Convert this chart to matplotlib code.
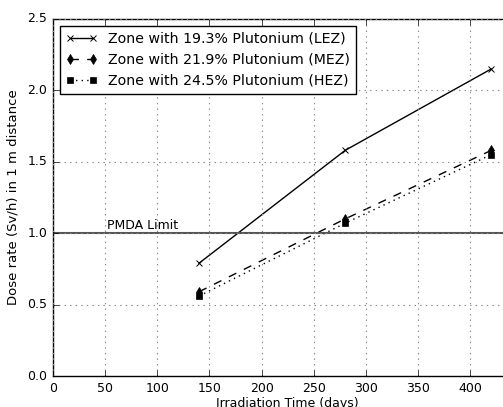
import matplotlib
matplotlib.use("Agg")
import matplotlib.pyplot as plt

days = [140, 280, 420]
lez = [0.79, 1.58, 2.15]
mez = [0.59, 1.10, 1.58]
hez = [0.56, 1.07, 1.55]
labels = ["Zone with 19.3% Plutonium (LEZ)",
          "Zone with 21.9% Plutonium (MEZ)",
          "Zone with 24.5% Plutonium (HEZ)"]
limit_value = 1.0
limit_label = "PMDA Limit"

plt.style.use("classic")
plt.rcParams["font.family"] = "DejaVu Sans"

fig = plt.figure(figsize=(5.03, 4.07), dpi=100)
fig.patch.set_facecolor("white")
fig.patch.set_edgecolor("white")
ax = fig.add_axes([53/503, 31/407, 469.5/503, 357/407])

ax.plot(days, lez, color="black", linestyle="-", marker="x", markersize=5,
        markeredgewidth=0.7, linewidth=1.0, label=labels[0])
ax.plot(days, mez, color="black", linestyle="--", marker="d", markersize=5,
        linewidth=1.0, label=labels[1])
ax.plot(days, hez, color="black", linestyle=":", marker="s", markersize=4.5,
        linewidth=1.0, label=labels[2])

ax.axhline(limit_value, color="#555555", linewidth=1.5)
ax.text(52, limit_value + 0.01, limit_label, fontsize=9, ha="left", va="bottom")

ax.set_xlim(0, 450)
ax.set_ylim(0, 2.5)
ax.set_xticks([0, 50, 100, 150, 200, 250, 300, 350, 400])
ax.set_yticks([0.0, 0.5, 1.0, 1.5, 2.0, 2.5])
ax.grid(True, color="#888888", linestyle=":", linewidth=0.8)
ax.tick_params(labelsize=9)
ax.set_xlabel("Irradiation Time (days)", fontsize=9, labelpad=2)
ax.set_ylabel("Dose rate (Sv/h) in 1 m distance", fontsize=9.5, labelpad=6)

leg = ax.legend(loc="upper left", fontsize=10.2, numpoints=2, handlelength=2.2,
                borderaxespad=0.5, fancybox=False)
leg.get_frame().set_edgecolor("black")

fig.savefig("out.png", dpi=100, facecolor="white", edgecolor="white")
